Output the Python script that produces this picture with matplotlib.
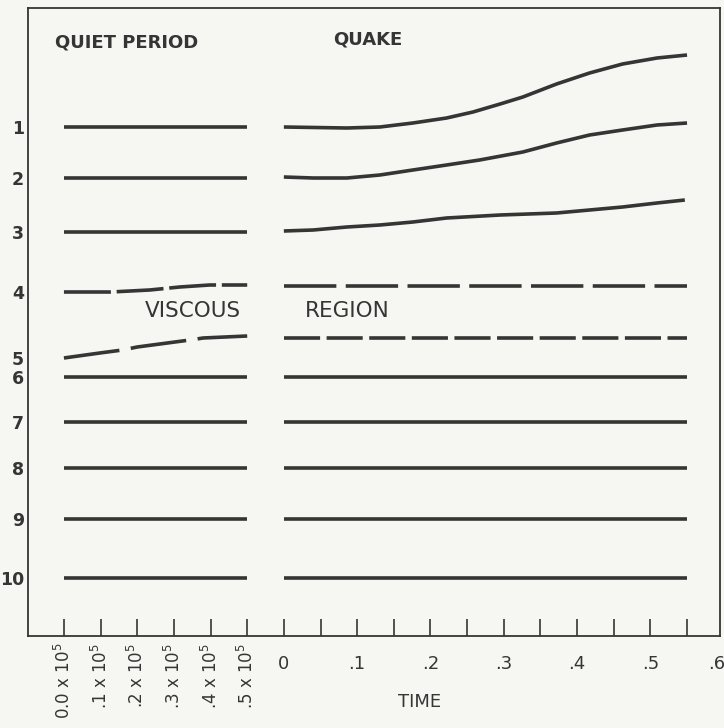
import numpy as np
import matplotlib
matplotlib.use("Agg")
import matplotlib.pyplot as plt

# layer numbers and their height at the start of the quiet period
layers = ['1', '2', '3', '4', '5', '6', '7', '8', '9', '10']
start_h = [50.9, 45.8, 40.4, 34.4, 27.8, 25.9, 21.4, 16.8, 11.7, 5.8]

quiet_t = [-0.30, -0.05]
quake_t = [0.0, 0.55]

# viscous layers bend during the quiet period
quiet4_t = [-0.30, -0.236, -0.183, -0.142, -0.101, -0.05]
quiet4_h = [34.4, 34.4, 34.6, 34.9, 35.1, 35.1]
quiet5_t = [-0.30, -0.251, -0.22, -0.20, -0.128, -0.11, -0.05]
quiet5_h = [27.8, 28.3, 28.6, 28.9, 29.6, 29.8, 30.0]

# top layers move during the quake
quake1_t = [0.0, 0.086, 0.131, 0.176, 0.222, 0.258, 0.295, 0.326, 0.372, 0.417, 0.462, 0.509, 0.55]
quake1_h = [50.9, 50.8, 50.9, 51.3, 51.8, 52.4, 53.2, 53.9, 55.2, 56.3, 57.2, 57.8, 58.1]
quake2_t = [0.0, 0.04, 0.086, 0.131, 0.176, 0.222, 0.267, 0.326, 0.372, 0.417, 0.462, 0.509, 0.55]
quake2_h = [45.9, 45.8, 45.8, 46.1, 46.6, 47.1, 47.6, 48.4, 49.3, 50.1, 50.6, 51.1, 51.3]
quake3_t = [0.0, 0.04, 0.086, 0.131, 0.176, 0.222, 0.295, 0.372, 0.417, 0.462, 0.509, 0.547]
quake3_h = [40.5, 40.6, 40.9, 41.1, 41.4, 41.8, 42.1, 42.3, 42.6, 42.9, 43.3, 43.6]
quake4_h = 35.0
quake5_h = 29.8

# x axis: quiet period ticks on the left, quake time on the right
quiet_ticks = [-0.30, -0.25, -0.20, -0.15, -0.10, -0.05]
quiet_labels = ['0.0 x 10$^5$', '.1 x 10$^5$', '.2 x 10$^5$', '.3 x 10$^5$', '.4 x 10$^5$', '.5 x 10$^5$']
quake_ticks = [0.0, 0.05, 0.1, 0.15, 0.2, 0.25, 0.3, 0.35, 0.4, 0.45, 0.5, 0.55]
time_ticks = [0.0, 0.1, 0.2, 0.3, 0.4, 0.5, 0.6]
time_labels = ['0', '.1', '.2', '.3', '.4', '.5', '.6']

ink = '#353535'
paper = '#f6f6f3'
lw = 2.6

fig = plt.figure(figsize=(7.24, 7.28), dpi=100, facecolor=paper)
ax = fig.add_axes([0.0387, 0.1264, 0.9558, 0.8626])
ax.set_facecolor(paper)

# solid layers
for i in [0, 1, 2, 5, 6, 7, 8, 9]:
    ax.plot(quiet_t, [start_h[i]] * 2, color=ink, lw=lw, solid_capstyle='butt')
for i in [5, 6, 7, 8, 9]:
    ax.plot(quake_t, [start_h[i]] * 2, color=ink, lw=lw, solid_capstyle='butt')
for t, h in [(quake1_t, quake1_h), (quake2_t, quake2_h), (quake3_t, quake3_h)]:
    ax.plot(t, h, color=ink, lw=lw, solid_capstyle='butt', solid_joinstyle='round')

# dashed (viscous) layers
ax.plot(quiet4_t, quiet4_h, color=ink, lw=lw, dashes=(13, 1.6))
ax.plot(quiet5_t, quiet5_h, color=ink, lw=lw, dashes=(15.5, 3.2))
ax.plot(quake_t, [quake4_h] * 2, color=ink, lw=lw, dashes=(14.5, 2.6))
ax.plot(quake_t, [quake5_h] * 2, color=ink, lw=lw, dashes=(10, 1.8))

ax.text(-0.312, 59.4, 'QUIET PERIOD', fontsize=13, fontweight='bold', color=ink, va='center')
ax.text(0.067, 59.7, 'QUAKE', fontsize=13, fontweight='bold', color=ink, va='center')
ax.text(-0.19, 32.5, 'VISCOUS', fontsize=15.5, color=ink, va='center')
ax.text(0.029, 32.5, 'REGION', fontsize=15.5, color=ink, va='center')

ax.set_xlim(-0.349, 0.595)
ax.set_ylim(0, 62.8)

ax.set_xticks(quiet_ticks + quake_ticks)
ax.set_xticklabels([])
ax.tick_params(axis='x', direction='in', length=12, width=1.2, color=ink)
ax.set_yticks(start_h)
ax.set_yticklabels(layers, fontsize=12.5, fontweight='bold', color=ink)
ax.tick_params(axis='y', length=0, pad=3)

for t, s in zip(quiet_ticks, quiet_labels):
    ax.annotate(s, xy=(t, 0), xycoords=('data', 'axes fraction'), xytext=(0, -5),
                textcoords='offset points', rotation=90, ha='center', va='top',
                fontsize=12, color=ink)
for t, s in zip(time_ticks, time_labels):
    # last label sits on the figure edge, pull it in a little
    dx = -5 if s == '.6' else 0
    ax.annotate(s, xy=(t, 0), xycoords=('data', 'axes fraction'), xytext=(dx, -20),
                textcoords='offset points', ha='center', va='center',
                fontsize=13, color=ink, annotation_clip=False)

ax.set_xlabel('TIME', fontsize=13, color=ink)
ax.xaxis.set_label_coords(0.566, -0.091)
ax.xaxis.label.set_va('top')

for sp in ax.spines.values():
    sp.set_color(ink)
    sp.set_linewidth(1.3)

fig.savefig('out.png', dpi=100, facecolor=paper)
